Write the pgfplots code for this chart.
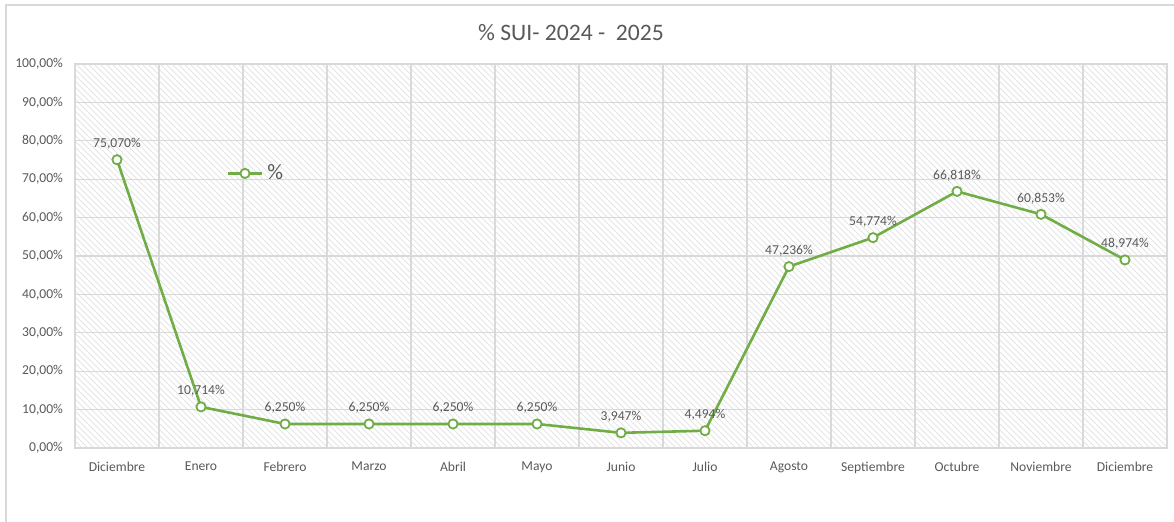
\documentclass[border=0pt]{standalone}
\usepackage{pgfplots}
\pgfplotsset{compat=1.18}
\usepackage{pgfplotstable}
\usepackage{fontspec}
\setmainfont{Carlito}
\usetikzlibrary{patterns}
\definecolor{lg}{HTML}{70AD47}
\definecolor{tx}{HTML}{595959}
\definecolor{gr}{HTML}{D9D9D9}
\pgfplotstableread{
x y lab
0 0.75070 75,070\%
1 0.10714 10,714\%
2 0.06250 6,250\%
3 0.06250 6,250\%
4 0.06250 6,250\%
5 0.06250 6,250\%
6 0.03947 3,947\%
7 0.04494 4,494\%
8 0.47236 47,236\%
9 0.54774 54,774\%
10 0.66818 66,818\%
11 0.60853 60,853\%
12 0.48974 48,974\%
}\datatable
\begin{document}
\begin{tikzpicture}
\path[use as bounding box] (0,0) rectangle (587pt,261pt);
\draw[gr, line width=0.6pt] (3pt,0) -- (3pt,258.5pt) -- (587pt,258.5pt);
\node[tx, font=\fontsize{11.8}{13}\selectfont] at (285.5pt,244.5pt) {\% SUI- 2024 -\ \ 2025};
\begin{axis}[
  at={(37.5pt,37pt)}, anchor=south west,
  scale only axis, width=546pt, height=192pt,
  xmin=-0.5, xmax=12.5, ymin=0, ymax=1,
  xtick={0,1,2,3,4,5,6,7,8,9,10,11,12},
  xticklabels={Diciembre,Enero,Febrero,Marzo,Abril,Mayo,Junio,Julio,Agosto,Septiembre,Octubre,Noviembre,Diciembre},
  minor xtick={-0.5,0.5,1.5,2.5,3.5,4.5,5.5,6.5,7.5,8.5,9.5,10.5,11.5,12.5},
  ytick={0,0.1,0.2,0.3,0.4,0.5,0.6,0.7,0.8,0.9,1},
  yticklabels={0{,}00\%,10{,}00\%,20{,}00\%,30{,}00\%,40{,}00\%,50{,}00\%,60{,}00\%,70{,}00\%,80{,}00\%,90{,}00\%,100{,}00\%},
  major tick length=0pt, minor tick length=0pt,
  ymajorgrids, xminorgrids,
  grid style={gr, line width=0.6pt},
  minor grid style={gr, line width=0.6pt},
  axis line style={gr, line width=0.6pt},
  axis background/.style={pattern=north west lines, pattern color=gray!20},
  tick label style={tx, font=\fontsize{6.8}{8}\selectfont},
  xticklabel style={yshift=-3.5pt},
  yticklabel style={xshift=-2.5pt},
  legend style={at={(0.133,0.715)}, anchor=west, draw=none, fill=none, text=tx, font=\fontsize{11}{12}\selectfont},
  clip=false,
]
\addplot[lg, line width=1.3pt, mark=*, mark size=2.3pt, mark options={fill=white, draw=lg, line width=0.9pt},
  nodes near coords, point meta=explicit symbolic,
  every node near coord/.append style={tx, font=\fontsize{6.8}{8}\selectfont, anchor=south, yshift=1.5pt}]
  table[x=x, y=y, meta=lab] {\datatable};
\addlegendentry{\%}
\end{axis}
\end{tikzpicture}
\end{document}
